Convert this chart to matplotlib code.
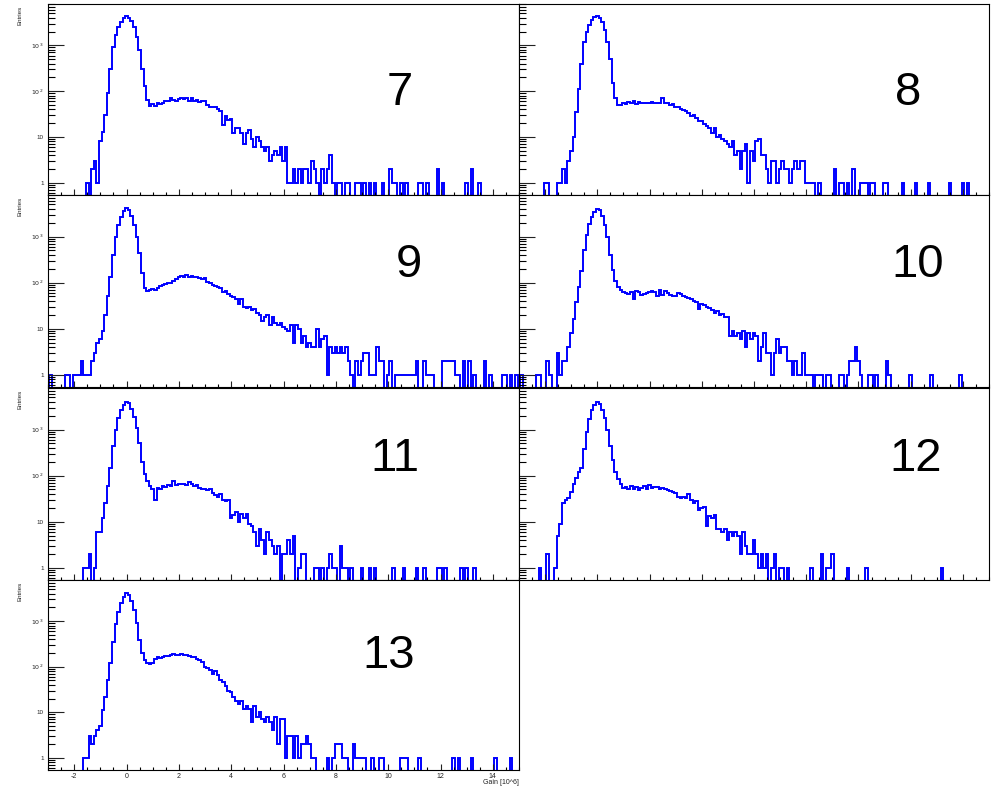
import numpy as np
import matplotlib
matplotlib.use('Agg')
import matplotlib.pyplot as plt
from matplotlib.ticker import FixedLocator, FixedFormatter, MultipleLocator, LogLocator, NullFormatter

plt.rcParams['font.family'] = ['Liberation Sans', 'DejaVu Sans']
plt.rcParams['axes.unicode_minus'] = False

# histogram binning: bin centres from -3.0 to 15.0 in steps of 0.1
BIN_WIDTH = 0.1
X_FIRST, X_LAST = -3.0, 15.0

# each channel: first bin centre of the dense part, its counts, and isolated bins
P7_START = -1.5
P7_BODY = [1, 0, 2, 3, 1, 8, 13, 30, 90, 300, 900, 1700, 2500, 3200, 3900,
           4300, 4000, 3400, 2500, 1500, 800, 300, 130, 65, 48,
           52, 48, 55, 52, 56, 60, 62, 72, 65, 62, 66, 70, 68, 72, 62, 70,
           60, 64, 58, 62, 60, 50, 46, 44, 46, 40, 36, 18, 28, 24, 25, 12,
           16, 16, 12, 7, 12, 14, 9, 6, 10, 8, 6, 5, 6, 3, 4, 5, 4, 6, 3, 6, 1]
P7_SPARSE = {6.3: 1, 6.4: 2, 6.5: 1, 6.6: 2, 6.7: 1, 6.8: 2, 6.9: 2, 7.0: 1,
             7.1: 3, 7.2: 2, 7.3: 1, 7.5: 2, 7.6: 1, 7.7: 2, 7.8: 4, 7.9: 1,
             8.1: 1, 8.2: 1, 8.4: 1, 8.5: 1, 8.8: 1, 8.9: 1, 9.1: 1, 9.3: 1,
             9.5: 1, 9.8: 1, 10.1: 2, 10.2: 1, 10.3: 1, 10.5: 1, 10.7: 1,
             11.2: 1, 11.3: 1, 11.5: 1, 11.9: 2, 12.1: 1, 13.0: 1, 13.2: 2,
             13.5: 1}

P8_START = -1.1
P8_BODY = [3, 5, 10, 35, 110, 400, 1200, 2000, 2800, 3500, 4100,
           4300, 3900, 3200, 2200, 1200, 500, 150, 70, 50,
           50, 55, 52, 58, 54, 60, 52, 58, 56, 56, 55, 56, 58, 55, 56, 54,
           70, 55, 54, 50, 52, 46, 44, 40, 38, 36, 34, 28, 30, 26, 22, 22,
           19, 17, 16, 12, 16, 10, 11, 9, 8, 7, 6, 8, 4, 5, 2, 5, 7, 1, 5,
           3, 8, 9, 4, 4, 2]
P8_SPARSE = {-2.0: 1, -1.9: 1, -1.5: 1, -1.4: 1, -1.3: 2, -1.2: 1,
             6.6: 1, 6.7: 3, 6.8: 3, 6.9: 1, 7.0: 2, 7.1: 3, 7.2: 2, 7.3: 2,
             7.4: 1, 7.5: 2, 7.6: 3, 7.7: 2, 7.8: 3, 7.9: 3, 8.0: 1, 8.1: 1,
             8.2: 1, 8.3: 1, 8.5: 1, 9.1: 2, 9.3: 1, 9.4: 1, 9.6: 1, 9.8: 2,
             10.1: 1, 10.2: 1, 10.3: 1, 10.5: 1, 10.6: 1, 11.0: 1, 11.1: 1,
             11.7: 1, 12.2: 1, 12.7: 1, 13.5: 1, 14.0: 1, 14.2: 1}

P9_START = -1.2
P9_BODY = [3, 5, 6, 9, 20, 50, 130, 400, 1000, 1800, 2700, 3600,
           4100, 3700, 2800, 1800, 1000, 450, 160, 75,
           65, 70, 72, 70, 78, 85, 90, 95, 100, 98, 110, 120, 130, 140, 130,
           145, 135, 140, 135, 130, 128, 120, 125, 105, 100, 90, 85, 80, 75,
           62, 65, 58, 52, 48, 45, 35, 45, 30, 28, 30, 25, 27, 22, 20, 15,
           18, 20, 12, 18, 13, 12, 13, 11, 10, 9, 12, 5, 12, 10, 5, 7, 4, 5,
           4, 4, 10, 4, 6, 7, 1, 4, 3, 4, 3, 4, 3, 4]
P9_SPARSE = {-2.9: 1, -2.3: 1, -2.2: 1, -2.0: 1, -1.9: 1, -1.8: 1, -1.7: 2,
             -1.6: 1, -1.5: 1, -1.4: 1, -1.3: 2,
             8.5: 2, 8.6: 1, 8.8: 2, 8.9: 1, 9.0: 2, 9.1: 3, 9.2: 3, 9.3: 1,
             9.4: 1, 9.5: 1, 9.6: 4, 9.7: 2, 9.8: 2, 10.0: 1, 10.1: 2,
             10.3: 1, 10.4: 1, 10.5: 1, 10.6: 1, 10.7: 1, 10.8: 1, 10.9: 1,
             11.0: 1, 11.1: 2, 11.4: 2, 11.5: 1, 11.6: 1, 11.7: 1, 12.1: 2,
             12.2: 2, 12.3: 2, 12.4: 2, 12.5: 2, 12.6: 1, 12.7: 1, 12.9: 2,
             13.1: 2, 13.3: 1, 13.7: 2, 13.9: 1, 14.4: 1, 14.5: 1, 14.7: 1,
             14.9: 1}

P10_START = -1.3
P10_BODY = [2, 2, 4, 8, 16, 38, 80, 180, 500, 1100, 1900, 2700, 3500,
            4000, 3700, 2800, 1800, 1000, 400, 190, 110, 80, 70,
            62, 60, 58, 62, 45, 65, 62, 55, 58, 60, 62, 65, 62, 52, 68, 55,
            65, 60, 55, 50, 52, 60, 58, 52, 48, 46, 45, 40, 38, 27, 34, 32,
            30, 28, 25, 22, 24, 20, 21, 18, 18, 7, 9, 7, 8, 6, 9, 4, 8, 6, 8,
            7, 2, 4, 8, 3, 3, 1, 3, 6, 3, 4, 4, 2, 2, 1, 2, 1, 1, 3, 1, 1, 1]
P10_SPARSE = {-2.9: 1, -2.3: 1, -2.2: 1, -1.9: 2, -1.8: 1, -1.5: 3, -1.4: 1,
              8.4: 1, 8.5: 1, 8.6: 1, 8.8: 1, 8.9: 1, 9.3: 1, 9.4: 1, 9.6: 1,
              9.7: 2, 9.8: 2, 9.9: 4, 10.0: 2, 10.1: 1, 10.4: 1, 10.5: 1,
              10.7: 1, 11.1: 2, 11.2: 1, 12.0: 1, 12.8: 1, 13.9: 1}

P11_START = -1.6
P11_BODY = [1, 1, 2, 0, 1, 6, 6, 12, 25, 60, 150, 450, 1000, 1800, 2700, 3500,
            4000, 3700, 2800, 1900, 1100, 500, 200, 110, 75, 60,
            50, 30, 55, 52, 60, 58, 62, 60, 78, 62, 65, 65, 66, 64, 72, 65,
            60, 62, 55, 50, 52, 48, 52, 42, 38, 35, 40, 30, 28, 30, 12, 14,
            16, 10, 15, 12, 15, 9, 8, 6, 3, 7, 4, 2, 6, 4, 3, 2, 3, 0, 2, 2,
            4, 2, 5, 0, 1, 2, 2]
P11_SPARSE = {7.2: 1, 7.3: 1, 7.5: 1, 7.7: 1, 7.8: 2, 7.9: 1, 8.0: 1, 8.2: 3,
              8.3: 1, 8.4: 1, 8.6: 1, 9.0: 1, 9.3: 1, 9.5: 1, 10.2: 1,
              10.6: 1, 11.1: 1, 11.4: 1, 11.9: 1, 12.0: 1, 12.2: 1, 12.8: 1,
              13.0: 1, 13.3: 1}

P12_START = -1.6
P12_BODY = [1, 5, 9, 26, 30, 33, 45, 65, 90, 120, 150, 370, 900, 1700, 2600,
            3400, 4000, 3600, 2700, 1800, 1000, 450, 220, 120, 85, 65,
            55, 58, 50, 60, 52, 58, 48, 55, 60, 50, 62, 55, 58, 56, 52, 55,
            50, 48, 46, 44, 42, 34, 32, 35, 33, 40, 30, 25, 28, 18, 20, 21,
            8, 13, 12, 14, 7, 7, 6, 7, 4, 6, 5, 6, 5, 2, 6, 3, 2, 2, 4, 2, 1,
            2, 1, 2, 0, 1, 2]
P12_SPARSE = {-2.2: 1, -1.9: 2, 7.0: 1, 7.1: 1, 7.3: 1, 8.2: 1, 8.6: 2,
              8.8: 1, 8.9: 1, 9.0: 2, 9.6: 1, 10.3: 1, 13.2: 1}

P13_START = -1.6
P13_BODY = [1, 1, 3, 2, 3, 4, 5, 11, 22, 50, 120, 350, 850, 1600, 2500, 3400,
            4100, 3700, 2800, 1800, 900, 380, 200, 140, 120,
            115, 120, 150, 160, 155, 165, 170, 175, 180, 190, 185, 180, 190,
            180, 185, 170, 165, 160, 150, 140, 125, 100, 95, 85, 70, 80, 65,
            50, 45, 38, 30, 28, 22, 18, 15, 18, 12, 14, 12, 6, 14, 8, 10, 7,
            6, 8, 6, 4, 8, 2, 7, 7, 1, 3, 3, 1, 3, 1, 2, 2, 3, 2, 1, 1]
P13_SPARSE = {7.7: 1, 7.9: 1, 8.0: 2, 8.1: 2, 8.2: 2, 8.3: 1, 8.4: 1, 8.7: 2,
              8.8: 1, 8.9: 1, 9.0: 1, 9.1: 1, 9.4: 1, 9.7: 1, 9.8: 1,
              10.5: 1, 10.6: 1, 10.7: 1, 11.2: 1, 12.5: 1, 12.7: 1, 13.2: 1,
              14.1: 1, 14.7: 1}

LABELS = ['7', '8', '9', '10', '11', '12', '13']
STARTS = [P7_START, P8_START, P9_START, P10_START, P11_START, P12_START, P13_START]
BODIES = [P7_BODY, P8_BODY, P9_BODY, P10_BODY, P11_BODY, P12_BODY, P13_BODY]
SPARSES = [P7_SPARSE, P8_SPARSE, P9_SPARSE, P10_SPARSE, P11_SPARSE, P12_SPARSE, P13_SPARSE]

Y_TICKS = [1, 10, 100, 1000]
Y_TICK_LABELS = ['1', '10', '$10^{2}$', '$10^{3}$']

W, H = 995, 786
# pad frames in pixels: (left, top, right, bottom)
FRAMES = [(48, 4, 519, 195), (519, 4, 989, 195),
          (48, 195, 519, 387), (519, 195, 989, 387),
          (48, 388, 519, 580), (519, 388, 989, 580),
          (48, 580, 519, 770)]
# big channel number, in axes fraction (centre x, baseline y)
LABEL_POS = [(0.747, 0.471), (0.828, 0.471), (0.766, 0.573), (0.849, 0.573),
             (0.736, 0.568), (0.843, 0.568), (0.723, 0.537)]


def histogram(start, body, sparse):
    """Build bin edges and counts from the dense part and the isolated bins."""
    n = int(round((X_LAST - X_FIRST) / BIN_WIDTH)) + 1
    counts = np.zeros(n)
    i0 = int(round((start - X_FIRST) / BIN_WIDTH))
    counts[i0:i0 + len(body)] = body
    for x, c in sparse.items():
        counts[int(round((x - X_FIRST) / BIN_WIDTH))] = c
    edges = X_FIRST - BIN_WIDTH / 2 + BIN_WIDTH * np.arange(n + 1)
    return edges, counts


fig = plt.figure(figsize=(W / 100, H / 100), dpi=100)

for i, label in enumerate(LABELS):
    l, t, r, b = FRAMES[i]
    ax = fig.add_axes([l / W, 1 - b / H, (r - l) / W, (b - t) / H])
    edges, counts = histogram(STARTS[i], BODIES[i], SPARSES[i])
    # empty bins drop below the frame like ROOT does on a log axis
    ax.stairs(np.where(counts > 0, counts, 1e-2), edges, baseline=None,
              color='#0000ff', lw=1.4)

    ax.set_yscale('log')
    ax.set_ylim(0.54, 8000)
    ax.set_xlim(-3, 15)

    ax.xaxis.set_major_locator(MultipleLocator(2))
    ax.xaxis.set_minor_locator(MultipleLocator(0.5))
    ax.yaxis.set_major_locator(FixedLocator(Y_TICKS))
    ax.yaxis.set_major_formatter(FixedFormatter(Y_TICK_LABELS))
    ax.yaxis.set_minor_locator(LogLocator(base=10, subs=range(2, 10)))
    ax.yaxis.set_minor_formatter(NullFormatter())

    ax.tick_params(axis='x', which='major', direction='in', length=4.3,
                   width=0.8, labelsize=5, pad=2, colors='#222222')
    ax.tick_params(axis='x', which='minor', direction='in', length=2, width=0.8)
    ax.tick_params(axis='y', which='major', direction='in', length=11.5,
                   width=0.8, labelsize=4.5, pad=3, colors='#222222')
    ax.tick_params(axis='y', which='minor', direction='in', length=5, width=0.8)

    left_col = (i % 2 == 0)
    if not left_col:
        ax.tick_params(axis='y', labelleft=False)
    if i != 6:
        ax.tick_params(axis='x', labelbottom=False)

    for sp in ax.spines.values():
        sp.set_linewidth(0.8)
        sp.set_color('black')

    lx, ly = LABEL_POS[i]
    ax.text(lx, ly, label, transform=ax.transAxes, ha='center', va='baseline',
            fontsize=34, color='black')

    if left_col:
        fig.text(20 / W, 1 - (t + 2) / H, 'Entries', rotation=90,
                 ha='center', va='top', fontsize=4.5, color='#222222')

fig.text(519 / W, 1 - 782.5 / H, 'Gain [10^6]', ha='right', va='center',
         fontsize=5, color='#222222')

fig.savefig('out.png', dpi=100)
